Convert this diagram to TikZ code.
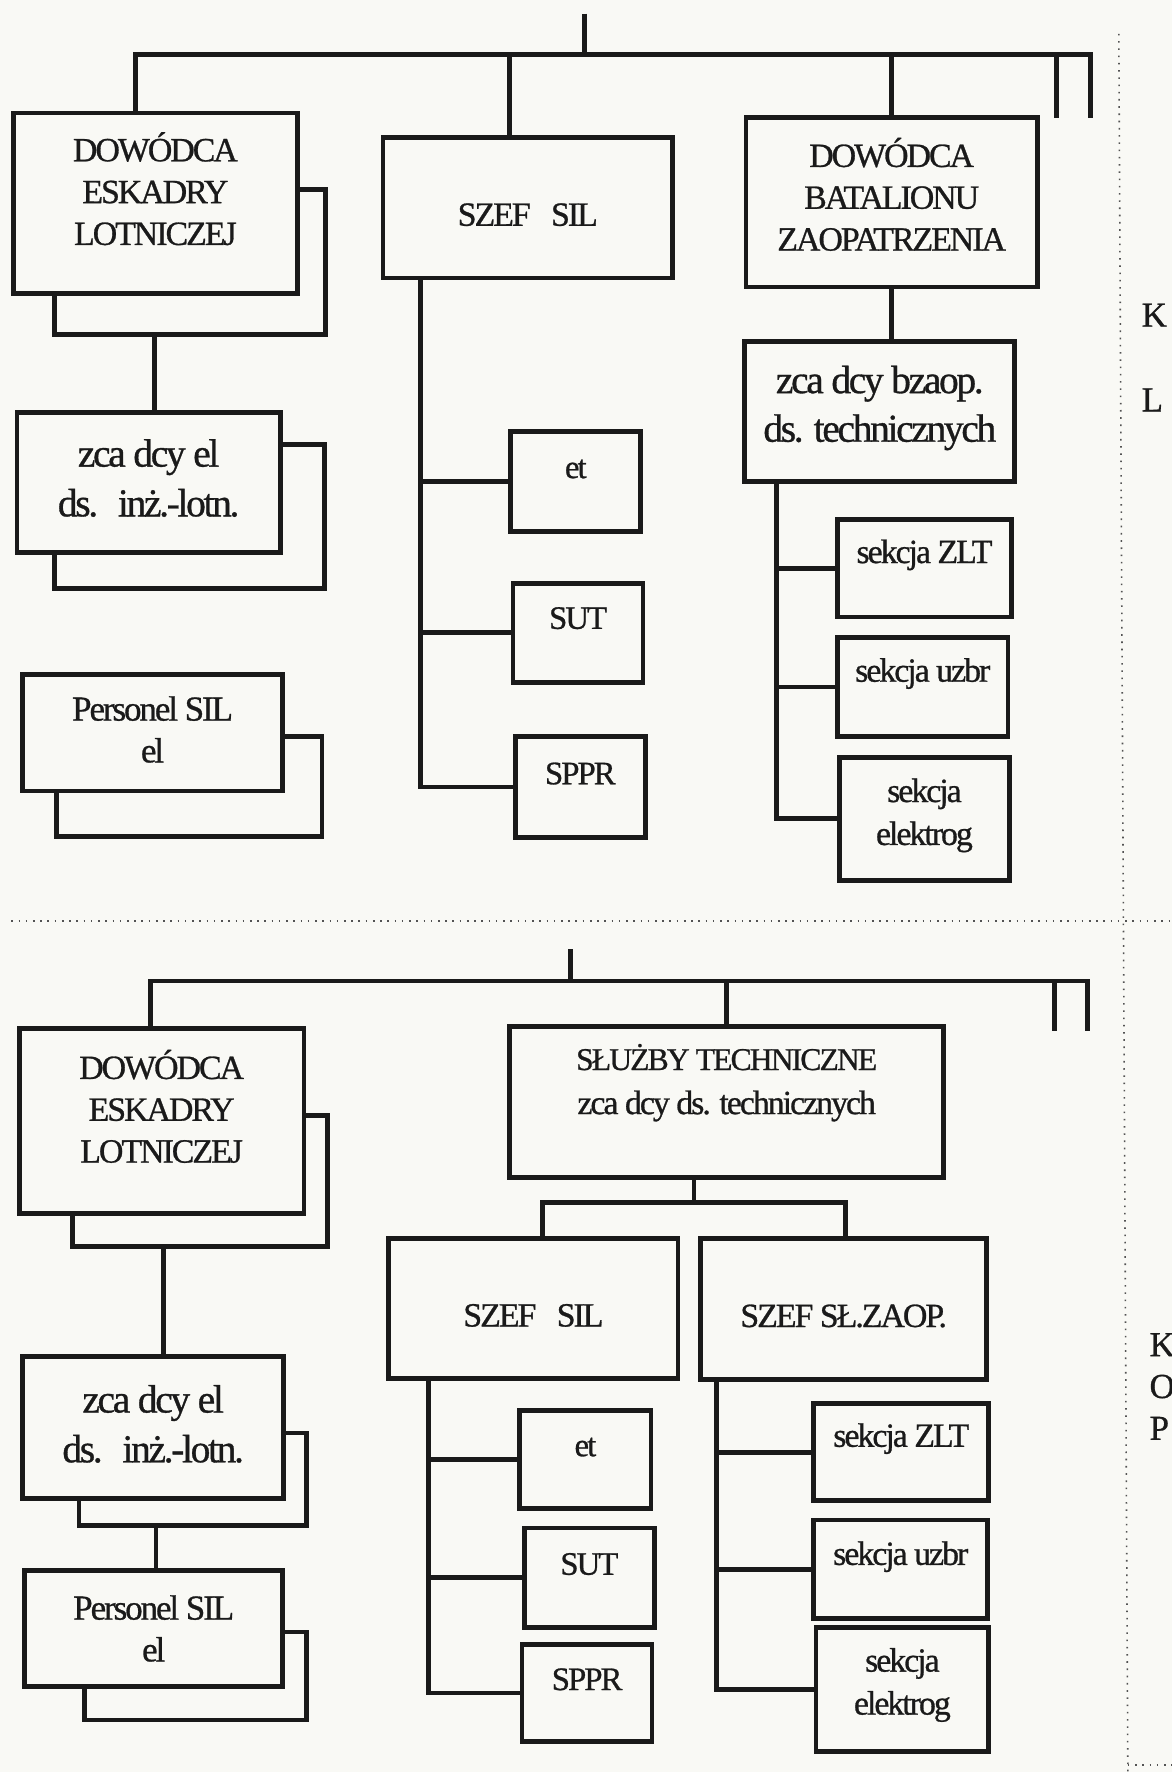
\documentclass[tikz,border=0pt]{standalone}
\usepackage{fontspec}
\setmainfont{Liberation Serif}[LetterSpace=-6,FakeBold=0.8]
\definecolor{paper}{RGB}{249,249,245}
\definecolor{ink}{RGB}{26,26,26}
\newcommand\fcaps{\fontsize{30}{37}\selectfont}
\newcommand\fzca{\fontsize{35}{44}\selectfont}
\newcommand\fbz{\fontsize{35}{43}\selectfont}
\newcommand\fpers{\fontsize{31}{37}\selectfont}
\newcommand\fsm{\fontsize{29}{35}\selectfont}
\newcommand\fsek{\fontsize{30}{38}\selectfont}
\newcommand\fST{\fontsize{28}{39}\selectfont}
\newcommand\fzt{\fontsize{30}{39}\selectfont}
\newcommand\flet{\fontsize{31}{36}\selectfont}
\tikzset{
  ln/.style={draw=ink, line width=4.2pt, line join=miter},
  box/.style={draw=ink, line width=4.2pt, fill=paper, inner sep=0pt, outer sep=0pt, rectangle},
  txt/.style={align=center, inner sep=0pt, text=ink},
  dots/.style={draw=ink!75, line width=1.4pt, dash pattern=on 1.4pt off 5pt},
}
\newcommand\orgbox[7]{\node[box, minimum width={(#4)-(#2)}, minimum height={(#5)-(#3)}, label={[txt,#6]center:{#7}}] (#1) at ({((#2)+(#4))/2},{((#3)+(#5))/2}) {};}
\newcommand\shbox[5]{\node[box, minimum width={(#4)-(#2)}, minimum height={(#5)-(#3)}] (#1) at ({((#2)+(#4))/2},{((#3)+(#5))/2}) {};}
\begin{document}
\begin{tikzpicture}[x=1pt,y=-1pt]
\useasboundingbox (0,0) rectangle (1037,1568);
\fill[paper] (0,0) rectangle (1037,1568);
% dotted separators
\draw[dots] (990,30) -- (998,1568);
\draw[dots] (10,815) -- (1037,815);
\draw[dots] (998,1562) -- (1037,1562);
% ---------------- top section ----------------
\shbox{a1s}{48}{168}{288}{296}
\shbox{a2s}{48}{393}{287}{521}
\shbox{a3s}{50}{652}{285}{740}
\orgbox{a1}{12}{100}{263}{260}{font=\fcaps,yshift=13pt}{DOWÓDCA\\ESKADRY\\LOTNICZEJ}
\orgbox{a2}{15}{365}{248}{489}{font=\fzca,yshift=4pt}{zca dcy el\\ds.\enspace inż.-lotn.}
\orgbox{a3}{20}{597}{250}{700}{font=\fpers,yshift=3pt}{Personel SIL\\el}
\orgbox{b1}{339}{122}{595}{246}{font=\fcaps,yshift=-6pt}{SZEF\hspace{0.6em}SIL}
\orgbox{b2}{452}{382}{567}{470}{font=\fsm,yshift=11pt}{et}
\orgbox{b3}{454}{516}{569}{604}{font=\fsm,yshift=13pt}{SUT}
\orgbox{b4}{456}{652}{571}{741}{font=\fsm,yshift=12pt}{SPPR}
\orgbox{c1}{660}{104}{918}{254}{font=\fcaps,yshift=7pt}{DOWÓDCA\\BATALIONU\\ZAOPATRZENIA}
\orgbox{c2}{659}{302}{898}{426}{font=\fbz,yshift=3pt}{zca dcy bzaop.\\ds. technicznych}
\orgbox{c3}{741}{460}{895}{546}{font=\fsek,yshift=12pt}{sekcja ZLT}
\orgbox{c4}{741}{564}{892}{652}{font=\fsek,yshift=12pt}{sekcja uzbr}
\orgbox{c5}{743}{670}{893}{779}{font=\fsek,yshift=3pt}{sekcja\\elektrog}
\coordinate (top1) at (517,12);
\coordinate (bus1) at (517,48);
\coordinate (s1) at (935,104);
\coordinate (s2) at (965,104);
\draw[ln] (top1) -- (bus1);
\draw[ln] (120,0 |- a1.north) |- (bus1) -| (s2);
\draw[ln] (451,0 |- b1.north) -- (451,0 |- bus1);
\draw[ln] (c1.north) -- (c1.north |- bus1);
\draw[ln] (s1) -- (s1 |- bus1);
\draw[ln] (137,0 |- a1s.south) -- (137,0 |- a2.north);
\draw[ln] (c1.south) -- (c1.south |- c2.north);
\draw[ln] (372,0 |- b1.south) |- (b4.west);
\draw[ln] (372,0 |- b2.west) -- (b2.west);
\draw[ln] (372,0 |- b3.west) -- (b3.west);
\draw[ln] (687,0 |- c2.south) |- (c5.west);
\draw[ln] (687,0 |- c3.west) -- (c3.west);
\draw[ln] (687,0 |- c4.west) -- (c4.west);
% ---------------- bottom section ----------------
\shbox{d1s}{64}{987}{290}{1103}
\shbox{d2s}{70}{1268}{271}{1350}
\shbox{d3s}{75}{1444}{271}{1522}
\orgbox{d1}{17}{910}{269}{1074}{font=\fcaps,yshift=13pt}{DOWÓDCA\\ESKADRY\\LOTNICZEJ}
\orgbox{d2}{20}{1200}{251}{1326}{font=\fzca,yshift=3pt}{zca dcy el\\ds.\enspace inż.-lotn.}
\orgbox{d3}{22}{1390}{250}{1492}{font=\fpers,yshift=0pt}{Personel SIL\\el}
\orgbox{e1}{451}{908}{835}{1042}{font=\fzt,yshift=17pt}{{\fST SŁUŻBY TECHNICZNE}\\zca dcy ds. technicznych}
\orgbox{f1}{344}{1096}{600}{1220}{font=\fcaps,yshift=-6pt}{SZEF\hspace{0.6em}SIL}
\orgbox{f2}{460}{1248}{576}{1335}{font=\fsm,yshift=11pt}{et}
\orgbox{f3}{464}{1352}{579}{1440}{font=\fsm,yshift=12pt}{SUT}
\orgbox{f4}{462}{1455}{577}{1541}{font=\fsm,yshift=12pt}{SPPR}
\orgbox{g1}{620}{1096}{873}{1221}{font=\fcaps,yshift=-6pt}{SZEF SŁ.ZAOP.}
\orgbox{g2}{720}{1242}{875}{1328}{font=\fsek,yshift=12pt}{sekcja ZLT}
\orgbox{g3}{720}{1345}{874}{1432}{font=\fsek,yshift=11pt}{sekcja uzbr}
\orgbox{g4}{722}{1440}{875}{1550}{font=\fsek,yshift=4pt}{sekcja\\elektrog}
\coordinate (top2) at (505,840);
\coordinate (bus2) at (505,868);
\coordinate (s3) at (933,912);
\coordinate (s4) at (962,912);
\coordinate (ebus) at (614,1064);
\draw[ln] (top2) -- (bus2);
\draw[ln] (133,0 |- d1.north) |- (bus2) -| (s4);
\draw[ln] (e1.north) -- (e1.north |- bus2);
\draw[ln] (s3) -- (s3 |- bus2);
\draw[ln] (145,0 |- d1s.south) -- (145,0 |- d2.north);
\draw[ln] (138,0 |- d2s.south) -- (138,0 |- d3.north);
\draw[ln] (ebus |- e1.south) -- (ebus);
\draw[ln] (480,0 |- f1.north) |- (ebus) -| (748,0 |- g1.north);
\draw[ln] (379,0 |- f1.south) |- (f4.west);
\draw[ln] (379,0 |- f2.west) -- (f2.west);
\draw[ln] (379,0 |- f3.west) -- (f3.west);
\draw[ln] (634,0 |- g1.south) |- (g4.west);
\draw[ln] (634,0 |- g2.west) -- (g2.west);
\draw[ln] (634,0 |- g3.west) -- (g3.west);
% ---------------- margin letters ----------------
\node[txt, font=\flet, anchor=base west] (k1) at (1010,289) {K};
\node[txt, font=\flet, anchor=base west] (l1) at (1010,364) {L};
\node[txt, font=\flet, anchor=base west] (k2) at (1017,1200) {K};
\node[txt, font=\flet, anchor=base west] (o2) at (1017,1237) {O};
\node[txt, font=\flet, anchor=base west] (p2) at (1017,1274) {P};
\end{tikzpicture}
\end{document}
